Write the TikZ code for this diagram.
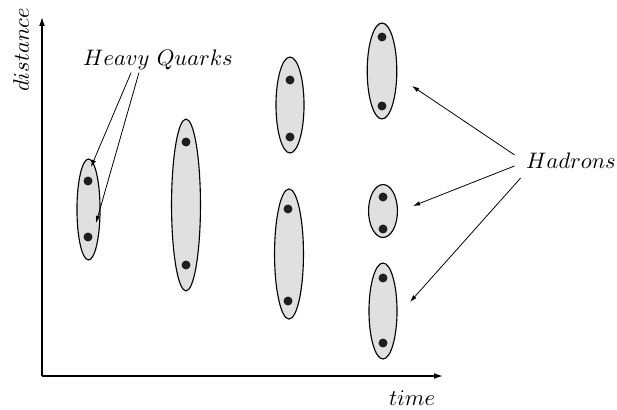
\documentclass[tikz,border=0pt]{standalone}
\usepackage{amsmath}
\usepackage{tikz}
\usetikzlibrary{positioning, arrows.meta, shapes.geometric}

\begin{document}
\begin{tikzpicture}[
  x=0.446pt, y=-0.446pt,
  hadron/.style={ellipse, draw, fill=black!12, line width=0.5pt, inner sep=0pt},
  quark/.style={circle, fill=black!88, inner sep=0pt, minimum size=4pt},
  lab/.style={inner sep=1pt},
  axis/.style={line width=0.6pt, -{Latex[length=4pt, width=2.6pt]}},
  pointer/.style={line width=0.35pt, -{Latex[length=3.2pt, width=2pt]}}
]
\useasboundingbox (0,0) rectangle (617,409);

% axes
\coordinate (origin) at (42,376);
\coordinate (tend) at (443,376);
\coordinate (dend) at (42,17);
\draw[axis] (origin) -- (tend);
\draw[axis] (origin) -- (dend);
\node[lab] (time) at (412,398) {$time$};
\node[lab, rotate=90] (dist) at (21,50) {$distance$};

% hadrons and their quarks
\node[hadron, minimum width=10.3pt, minimum height=45pt] (h1) at (88.5,209.5) {};
\node[hadron, minimum width=12.9pt, minimum height=76.7pt] (h2) at (186,205) {};
\node[hadron, minimum width=12.5pt, minimum height=42.8pt] (h3a) at (290,105) {};
\node[hadron, minimum width=12.9pt, minimum height=58pt] (h3b) at (289,254) {};
\node[hadron, minimum width=13.2pt, minimum height=42.8pt] (h4a) at (382,71) {};
\node[hadron, minimum width=12.9pt, minimum height=23.6pt] (h4b) at (383,211) {};
\node[hadron, minimum width=12.5pt, minimum height=42.8pt] (h4c) at (383,311) {};

\foreach \n/\x/\ya/\yb in {1/88/181/237, 2/186/142/265, 3/290/80/137, 4/288/209/301,
                           5/382/37/106, 6/383/197/229, 7/383/278/343} {
  \node[quark] (q\n a) at (\x,\ya) {};
  \node[quark] (q\n b) at (\x,\yb) {};
}

% labels
\node[lab] (hq) at (158,60) {$Heavy\ Quarks$};
\node[lab] (hd) at (571,161) {$Hadrons$};

\coordinate (hqtipa) at (91,167);
\coordinate (hqtipb) at (96,223);
\coordinate (hdtipa) at (412,86);
\coordinate (hdtipb) at (413,206);
\coordinate (hdtipc) at (410,302);

\draw[pointer] ([xshift=-12pt]hq.south) -- (hqtipa);
\draw[pointer] ([xshift=-8.5pt]hq.south) -- (hqtipb);
\draw[pointer] ([shift={(-4pt,2.7pt)}]hd.west) -- (hdtipa);
\draw[pointer] ([shift={(-4pt,-2.2pt)}]hd.west) -- (hdtipb);
\draw[pointer] ([shift={(-1.3pt,-7.6pt)}]hd.west) -- (hdtipc);
\end{tikzpicture}
\end{document}
